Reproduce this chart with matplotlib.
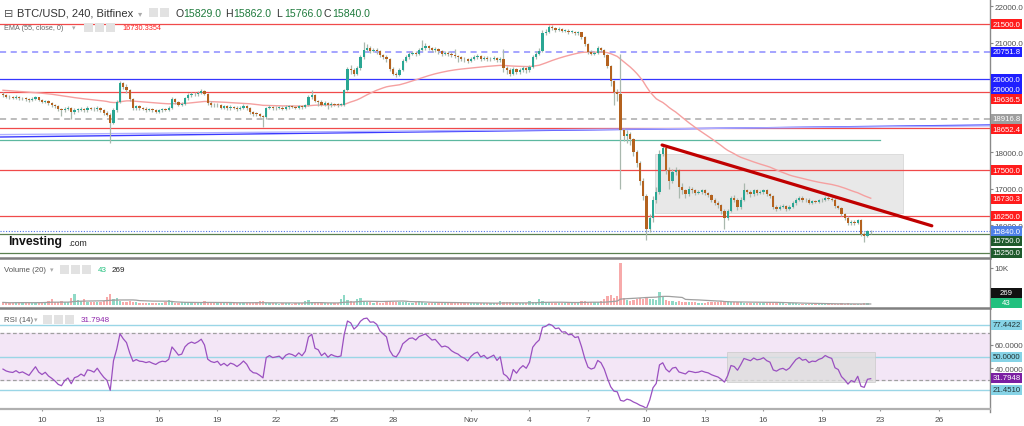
import numpy as np
import pandas as pd
import matplotlib
matplotlib.use('Agg')
import matplotlib.pyplot as plt
from matplotlib.patches import Rectangle
from matplotlib.lines import Line2D

plt.rcParams['font.family'] = ['Liberation Sans', 'DejaVu Sans']

# ---------------- data (4h candles, BTC/USD Bitfinex) ----------------
first_open = 19590
close = [19560,19520,19500,19490,19510,19470,19480,19450,19420,19460,
 19500,19420,19380,19400,19340,19300,19250,19180,19150,19190,
 19210,19100,19150,19160,19180,19150,19200,19190,19170,19200,
 19140,19080,19030,18800,19150,19380,19880,19780,19700,19450,
 19200,19250,19200,19190,19160,19180,19140,19110,19150,19170,
 19160,19200,19450,19380,19300,19320,19480,19560,19600,19580,
 19620,19680,19600,19350,19300,19280,19300,19220,19250,19200,
 19240,19220,19180,19210,19250,19200,19100,19050,19040,19000,
 18950,19200,19230,19200,19210,19220,19180,19230,19250,19240,
 19220,19260,19230,19280,19500,19560,19400,19380,19300,19340,
 19280,19320,19300,19290,19300,19700,20280,20250,20150,20300,
 20600,20800,20850,20780,20800,20760,20650,20600,20550,20280,
 20150,20120,20250,20500,20600,20700,20720,20680,20800,20850,
 20900,20850,20800,20820,20760,20700,20720,20700,20650,20620,
 20600,20560,20540,20500,20560,20600,20620,20560,20580,20540,
 20560,20580,20520,20560,20300,20250,20150,20280,20200,20260,
 20300,20250,20330,20600,20700,20780,21250,21300,21420,21400,
 21350,21380,21320,21330,21290,21300,21260,21280,21150,20950,
 20750,20700,20720,20850,20800,20650,20350,19950,19650,19600,
 18600,18450,18500,18350,18000,17700,17200,16800,15900,16200,
 16700,16900,17950,18100,17500,17200,17450,17500,17050,16950,
 16850,17000,16950,16880,16900,16950,16870,16820,16700,16620,
 16550,16400,16200,16400,16750,16700,16500,16700,16950,16900,
 16850,16950,16880,16900,16950,16850,16800,16500,16450,16500,
 16520,16450,16500,16600,16700,16750,16680,16700,16620,16650,
 16640,16680,16700,16750,16720,16700,16520,16480,16300,16200,
 16050,16100,16050,16130,15750,15700,15830,15840]
high = [19640,19590,19560,19540,19560,19540,19520,19510,19480,19500,
 19540,19520,19450,19440,19420,19370,19330,19280,19220,19230,
 19260,19240,19200,19220,19230,19220,19250,19240,19230,19260,
 19230,19170,19120,19060,19200,19420,19960,19930,19860,19740,
 19480,19300,19290,19240,19230,19220,19210,19180,19190,19210,
 19210,19260,19500,19480,19410,19370,19520,19620,19650,19640,
 19680,19720,19710,19630,19400,19340,19350,19330,19290,19280,
 19290,19270,19250,19260,19330,19280,19230,19130,19090,19070,
 19030,19240,19280,19260,19250,19260,19250,19280,19290,19280,
 19270,19300,19290,19320,19560,19700,19590,19440,19420,19390,
 19370,19360,19350,19340,19350,19740,20330,20380,20300,20350,
 20650,21010,20950,20900,20860,20840,20800,20700,20650,20580,
 20320,20200,20300,20550,20650,20750,20780,20760,20850,21080,
 20980,20940,20880,20870,20850,20790,20770,20760,20730,20820,
 20660,20640,20600,20580,20610,20660,20680,20650,20630,20620,
 20610,20630,20610,20610,20820,20360,20290,20330,20310,20310,
 20350,20340,20380,20650,20760,20850,21350,21380,21480,21470,
 21440,21420,21400,21380,21360,21340,21330,21320,21300,21180,
 20980,20800,20780,20900,20880,20830,20680,20380,19980,19720,
 20690,18650,18600,18550,18400,18050,17750,17300,16850,16300,
 16800,17050,18050,18220,18150,17600,17550,17600,17550,17150,
 17000,17060,17050,16990,16960,17000,16990,16910,16860,16750,
 16660,16580,16440,16450,16800,16820,16740,16760,17150,17000,
 16950,17000,16990,16950,17000,16990,16890,16830,16560,16560,
 16580,16560,16560,16650,16750,16800,16790,16750,16740,16700,
 16690,16720,16750,16800,16790,16760,16740,16560,16510,16340,
 16240,16150,16140,16180,16160,15800,15870,15862]
low = [19520,19480,19460,19450,19460,19430,19440,19410,19380,19390,
 19440,19390,19340,19340,19280,19240,19200,19120,19000,19100,
 19140,18900,19050,19100,19120,19100,19110,19140,19120,19130,
 19090,19030,18980,18250,18760,19100,19350,19720,19620,19400,
 19150,19150,19160,19140,19110,19120,19090,19060,19070,19110,
 19120,19120,19180,19330,19250,19260,19290,19440,19520,19530,
 19540,19580,19560,19300,19240,19230,19240,19170,19180,19150,
 19160,19180,19130,19140,19170,19150,19050,19000,18990,18950,
 18700,18900,19170,19150,19160,19170,19140,19150,19190,19200,
 19180,19190,19190,19200,19250,19460,19360,19250,19250,19260,
 19180,19240,19250,19240,19250,19270,19680,20150,20080,20100,
 20260,20560,20760,20720,20730,20700,20600,20540,20480,20220,
 20100,20060,20080,20220,20460,20560,20660,20630,20650,20760,
 20800,20790,20740,20750,20700,20640,20650,20640,20600,20570,
 20480,20500,20480,20440,20460,20520,20560,20500,20510,20490,
 20500,20510,20470,20480,20190,20150,20080,20100,20130,20150,
 20200,20180,20200,20300,20560,20650,20750,21200,21260,21340,
 21300,21310,21280,21280,21240,21250,21210,21220,21100,20900,
 20680,20650,20660,20680,20740,20600,20300,19820,19300,19400,
 16990,18300,18250,18200,17900,17600,17100,16700,15600,15800,
 16100,16600,16850,17900,17400,17000,17150,17380,16750,16850,
 16750,16800,16880,16820,16840,16860,16820,16760,16640,16560,
 16480,16300,15900,16150,16350,16640,16420,16450,16660,16840,
 16780,16800,16830,16840,16860,16800,16750,16450,16400,16410,
 16460,16400,16410,16460,16560,16660,16630,16640,16580,16580,
 16600,16600,16640,16660,16680,16650,16470,16430,16250,16150,
 16000,16010,16000,16020,15700,15540,15680,15766]
volume = [700,600,550,650,800,700,600,550,500,600,
 650,700,800,900,1200,1500,900,800,1000,800,
 700,1900,3100,1400,1000,1600,900,800,700,700,
 800,1200,2200,2900,1500,2000,1100,900,900,1000,
 800,700,600,650,600,550,550,600,500,500,
 700,1300,800,650,600,800,750,600,550,700,
 800,600,1000,700,550,500,500,550,450,500,
 500,550,450,600,500,550,600,500,700,1200,
 1000,600,500,450,420,400,480,450,420,400,
 450,420,480,1100,1300,800,700,600,550,500,
 480,450,420,480,1700,2600,1300,1000,900,1500,
 1900,1100,900,700,650,700,600,600,1200,1000,
 800,700,900,800,700,650,600,700,1000,700,
 600,550,500,480,500,450,480,450,800,700,
 550,500,500,600,550,500,450,420,480,450,
 420,480,450,1100,900,800,700,600,550,500,
 480,550,1000,800,700,1600,1000,900,700,600,
 550,500,480,450,420,480,450,700,1000,1200,
 800,700,900,800,1000,1500,2300,2700,1900,2400,
 11300,1900,1300,1200,1400,1600,1800,1700,2200,1600,
 1500,1400,3400,2200,1400,1200,1000,900,1000,800,
 900,800,700,700,650,600,650,700,750,800,
 850,1200,1000,1100,800,850,750,900,650,600,
 550,500,480,450,500,480,750,650,500,450,
 420,400,450,480,420,400,350,320,250,230,
 240,220,210,230,200,220,210,190,450,380,
 420,350,260,240,230,500,420,43]

# indicator values at the left edge of the window
ema_start = 19700          # EMA(55) at the first visible candle
rsi_start_gain, rsi_start_loss = 30.0, 44.0   # Wilder averages giving RSI ~40 at left edge

# x tick labels (candle index of each date label)
xtick_pos = [12, 30, 48, 66, 84, 102, 120, 144, 162, 180, 198, 216, 234, 252, 270, 288]
xtick_lab = ['10', '13', '16', '19', '22', '25', '28', 'Nov', '4', '7', '10', '13', '16', '19', '23', '26']

# horizontal levels drawn on the price pane: (price, colour, style)
price_levels = [(21500.0, '#f04a4a', '-'), (20751.8, '#8c8cff', '--'), (20000.0, '#3535ff', '-'),
                (19636.5, '#f04a4a', '-'), (18916.8, '#aaaaaa', '--'), (18652.4, '#f04a4a', '-'),
                (17500.0, '#f04a4a', '-'), (16250.0, '#f04a4a', '-'),
                (15750.0, '#5b8050', '-'), (15250.0, '#5b8050', '-')]
rsi_levels = [77.4422, 50.0, 21.4510]

N = len(close)
x = np.arange(N)
c = np.array(close, float)
o = np.r_[first_open, c[:-1]]
h = np.array(high, float)
l = np.array(low, float)
v = np.array(volume, float)
up = c >= o

# EMA(55) recursion
ema = np.empty(N)
prev = ema_start
for i in range(N):
    prev = prev + 2.0 / 56.0 * (c[i] - prev)
    ema[i] = prev
# RSI(14), Wilder smoothing
rsi = np.empty(N)
ag, al = rsi_start_gain, rsi_start_loss
d = np.diff(np.r_[first_open, c])
for i in range(N):
    ag = (ag * 13 + max(d[i], 0)) / 14
    al = (al * 13 + max(-d[i], 0)) / 14
    rsi[i] = 100 * ag / (ag + al)
vma = pd.Series(v).rolling(20, min_periods=1).mean().values

# ---------------- figure layout ----------------
W, H = 1024, 427
fig = plt.figure(figsize=(W/100, H/100), dpi=100)
def fr(x0, y0, x1, y1):
    return [x0/W, 1-y1/H, (x1-x0)/W, (y1-y0)/H]

ax = fig.add_axes(fr(0, 0, 990, 257))
axv = fig.add_axes(fr(0, 261, 990, 307), sharex=ax)
axr = fig.add_axes(fr(0, 311, 990, 409), sharex=ax)

XL = (-0.92, 303.7)
UPC, DNC, WICK = '#2aa693', '#b4621f', '#a9b8ae'

for a in (ax, axv, axr):
    a.set_xlim(*XL)
    for s in a.spines.values():
        s.set_visible(False)
    a.yaxis.tick_right()
    a.tick_params(axis='y', labelsize=5.8, labelcolor='#505050', color='#888888', length=2.5, pad=1.0)
    a.tick_params(axis='x', bottom=False, labelbottom=False)

# ---- price pane
ax.set_ylim(15156, 22193)
ax.set_yticks([16000, 17000, 18000, 21000, 22000])
ax.yaxis.set_major_formatter(matplotlib.ticker.FormatStrFormatter('%.1f'))

for p, col, st in price_levels:
    if st == '--':
        ax.axhline(p, color=col, lw=1.1, ls=(0, (4, 3)), zorder=1)
    else:
        ax.axhline(p, color=col, lw=0.9, zorder=1)
# trend lines and drawings
ax.plot([-0.92, 303.7], [18414, 18743], color='#3a3aff', lw=1.0, zorder=1)
ax.plot([-0.92, 303.7], [18480, 18720], color='#b0b0ff', lw=1.0, zorder=1)
ax.plot([-0.92, 269.8], [18332, 18332], color='#5cb8a0', lw=0.9, zorder=1)
ax.axhline(15840, color='#4f72e6', lw=0.8, ls=(0, (1, 1.5)), zorder=1)
ax.add_patch(Rectangle((200.6, 16333), 76.3, 17949-16333, fc='#e4e4e4', ec='#d4d4d4', lw=0.6, alpha=0.85, zorder=0.5))

ax.plot(x, ema, color='#f5a0a0', lw=1.0, zorder=2)
ax.vlines(x, l, h, color=WICK, lw=0.9, zorder=3)
body_lo = np.minimum(o, c)
body_h = np.maximum(np.abs(c - o), 18)
ax.bar(x, body_h, bottom=body_lo, width=0.74, color=np.where(up, UPC, DNC), lw=0, zorder=4)
ax.plot([202.8, 285.8], [18195, 15983], color='#c00000', lw=2.3, solid_capstyle='round', zorder=5)

# ---- volume pane
axv.set_ylim(-270, 12162)
axv.set_yticks([10000])
axv.set_yticklabels(['10K'])
axv.bar(x, v, width=0.74, color=np.where(up, '#8fd9c6', '#f7aaaa'), lw=0, zorder=2)
axv.plot(x, vma, color='#a0a0a0', lw=0.9, zorder=3)

# ---- RSI pane
axr.set_ylim(5.92, 90.04)
axr.set_yticks([40, 60])
axr.yaxis.set_major_formatter(matplotlib.ticker.FormatStrFormatter('%.4f'))
axr.axhspan(30, 70, color='#f3e6f6', zorder=0)
axr.axhline(70, color='#a0a0a0', lw=0.9, ls=(0, (3, 2)), zorder=1)
axr.axhline(30, color='#a0a0a0', lw=0.9, ls=(0, (3, 2)), zorder=1)
for lv in rsi_levels:
    axr.axhline(lv, color='#9ad6e6', lw=1.0, zorder=1)
axr.add_patch(Rectangle((222.8, 28.2), 45.5, 54-28.2, fc='#dedede', ec='#c8c8c8', lw=0.6, alpha=0.8, zorder=1.5))
axr.plot(x, rsi, color='#9a50c0', lw=0.9, zorder=3)
axr.set_xticks(xtick_pos)
axr.set_xticklabels(xtick_lab)
axr.tick_params(axis='x', bottom=True, labelbottom=True, labelsize=6.0, labelcolor='#505050',
                color='#999999', length=2, pad=4)

# ---- frame lines
fig.add_artist(Line2D([990/W, 990/W], [1-413/H, 1], transform=fig.transFigure, color='#8a8a8a', lw=1.0))
for yy in (259, 309):
    fig.add_artist(Line2D([0, 990/W], [1-yy/H]*2, transform=fig.transFigure, color='#808080', lw=1.8))
fig.add_artist(Line2D([0, 990/W], [1-410/H]*2, transform=fig.transFigure, color='#b0b0b0', lw=1.6))

# ---- right-axis value labels
def rlabel(a, val, text, bg, fg='white', ypx=None):
    if ypx is None:
        disp = a.transData.transform((0, val))[1]
    else:
        disp = H - ypx
    fig.add_artist(Rectangle((991/W, (disp-5)/H), 31/W, 10/H, transform=fig.transFigure,
                             fc=bg, ec='none', zorder=20))
    fig.text(1006.5/W, disp/H, text, ha='center', va='center', fontsize=5.6, color=fg, zorder=21)

RED, BLUE, GRAY, DGRN = '#ff1c1c', '#1f1fff', '#9e9e9e', '#1f5a2c'
rlabel(ax, 21500.0, '21500.0', RED)
rlabel(ax, 20751.8, '20751.8', BLUE)
rlabel(ax, 20000.0, '20000.0', BLUE, ypx=80)
rlabel(ax, 20000.0, '20000.0', BLUE, ypx=90)
rlabel(ax, 19636.5, '19636.5', RED, ypx=100)
rlabel(ax, 18916.8, '18916.8', GRAY)
rlabel(ax, 18652.4, '18652.4', RED, ypx=130)
rlabel(ax, 17500.0, '17500.0', RED)
rlabel(ax, 16730.3, '16730.3', RED)
rlabel(ax, 16250.0, '16250.0', RED)
rlabel(ax, 15840.0, '15840.0', '#4f80e8')
rlabel(ax, 15750.0, '15750.0', DGRN, ypx=242)
rlabel(ax, 15250.0, '15250.0', DGRN)
rlabel(axv, 269, '269', '#111111', ypx=294)
rlabel(axv, 43, '43', '#22c07e', ypx=303.5)
rlabel(axr, 77.4422, '77.4422', '#86d3e6', fg='#233')
rlabel(axr, 50.0, '50.0000', '#86d3e6', fg='#233')
rlabel(axr, 31.7948, '31.7948', '#7b1fa2')
rlabel(axr, 21.4510, '21.4510', '#86d3e6', fg='#233')

# ---- legends / header text
def T(xp, yp, s, **kw):
    kw.setdefault('va', 'center')
    kw.setdefault('ha', 'left')
    fig.text(xp/W, 1-yp/H, s, **kw)

def icons(x0, yp, n, size=9):
    for k in range(n):
        fig.add_artist(Rectangle(((x0 + k*(size+2))/W, 1-(yp+size/2)/H), size/W, size/H,
                                 transform=fig.transFigure, fc='#e2e2e2', ec='none', zorder=15))

T(4, 14, '⊟', fontsize=8, color='#555555', family='DejaVu Sans')
T(17, 14, 'BTC/USD, 240, Bitfinex', fontsize=8.0, color='#333333')
T(138, 14, '▾', fontsize=6, color='#aaaaaa', family='DejaVu Sans')
icons(149, 13, 2)
GV = '#1e7a3c'
for xp, lab, val in [(175, 'O', '15829.0'), (225, 'H', '15862.0'), (276, 'L', '15766.0'), (324, 'C', '15840.0')]:
    T(xp, 14, lab, fontsize=7.6, color='#333333')
    T(xp + 8.5, 14, val, fontsize=7.6, color=GV)

T(4, 28, 'EMA (55, close, 0)', fontsize=5.2, color='#666666')
T(72, 28, '▾', fontsize=5, color='#aaaaaa', family='DejaVu Sans')
icons(84, 28, 3)
T(122, 28, '16730.3354', fontsize=5.3, color='#ff2020')

T(8, 242, 'Investing', fontsize=8.8, weight='bold', color='#111111')
T(68, 243.5, '.com', fontsize=6.2, color='#222222')

T(4, 270, 'Volume (20)', fontsize=5.6, color='#555555')
T(50, 270, '▾', fontsize=5, color='#aaaaaa', family='DejaVu Sans')
icons(60, 270, 3)
T(98, 270, '43', fontsize=5.8, color='#22c07e')
T(112, 270, '269', fontsize=5.8, color='#222222')

T(4, 320, 'RSI (14)', fontsize=5.6, color='#555555')
T(34, 320, '▾', fontsize=5, color='#aaaaaa', family='DejaVu Sans')
icons(43, 320, 3)
T(81, 320, '31.7948', fontsize=5.8, color='#8e24aa')

fig.savefig('out.png', dpi=100)
